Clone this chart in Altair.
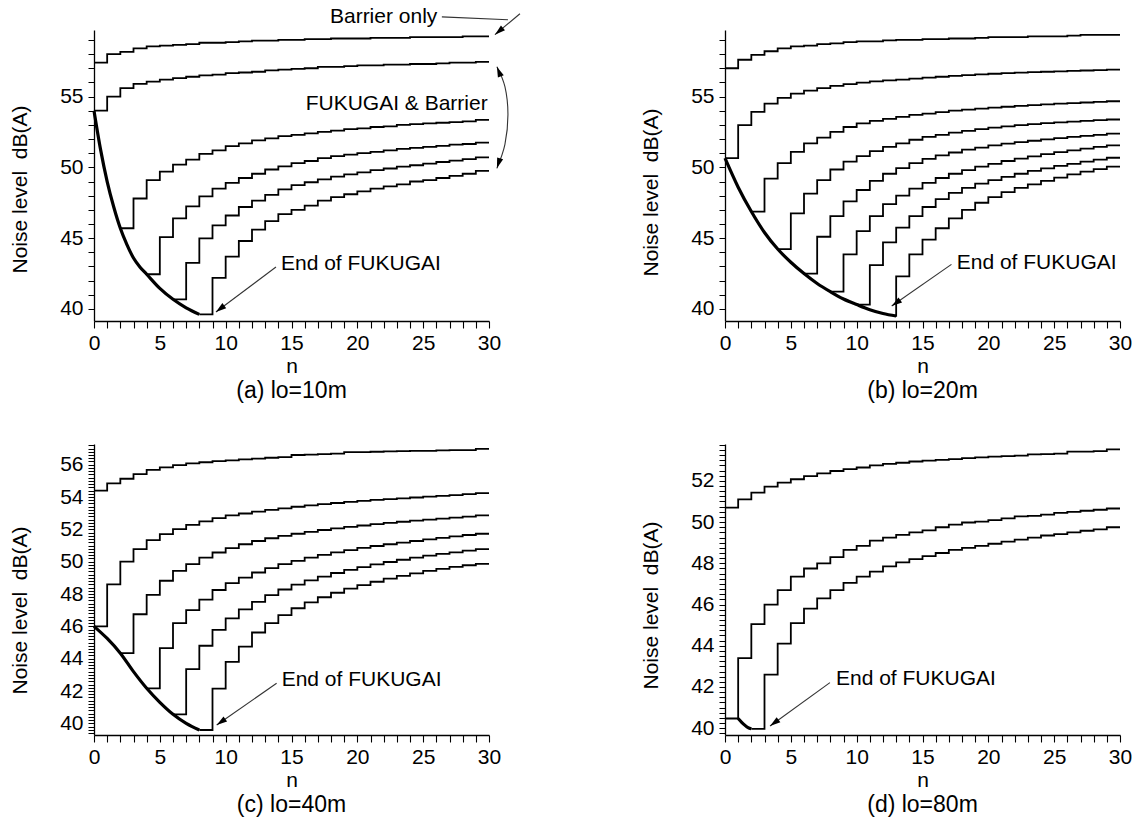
import altair as alt
import pandas as pd

FONT = "Liberation Sans"

# ---------------- (a) lo=10m ----------------
a_barrier = [57.4, 58.0, 58.15, 58.4, 58.55, 58.6, 58.65, 58.7, 58.8, 58.8,
             58.85, 58.9, 58.95, 58.95, 59.0, 59.0, 59.05, 59.05, 59.1, 59.1,
             59.1, 59.15, 59.15, 59.15, 59.2, 59.2, 59.2, 59.2, 59.25, 59.25]
a_fb_start_n = [0, 2, 4, 6, 8]
a_fb_start_db = [54.0, 45.7, 42.45, 40.68, 39.62]
a_fb_jump = [1, 3, 5, 7, 9]
a_fb1 = [55.0, 55.6, 55.9, 56.05, 56.2, 56.3, 56.4, 56.5, 56.55, 56.65, 56.7, 56.75,
         56.85, 56.9, 56.95, 57.0, 57.1, 57.1, 57.15, 57.2, 57.2, 57.25, 57.25, 57.3,
         57.3, 57.35, 57.4, 57.4, 57.45]
a_fb2 = [47.8, 49.1, 49.7, 50.2, 50.55, 50.95, 51.2, 51.5, 51.7, 51.9, 52.05, 52.2,
         52.3, 52.4, 52.5, 52.6, 52.7, 52.75, 52.85, 52.9, 53.0, 53.05, 53.1, 53.15,
         53.2, 53.25, 53.35]
a_fb3 = [45.07, 46.4, 47.25, 47.95, 48.5, 48.9, 49.25, 49.55, 49.85, 50.07, 50.3,
         50.45, 50.65, 50.8, 50.9, 51.0, 51.1, 51.2, 51.3, 51.38, 51.45, 51.52, 51.6,
         51.65, 51.75]
a_fb4 = [43.26, 44.98, 45.9, 46.6, 47.2, 47.65, 48.05, 48.45, 48.75, 48.95, 49.15,
         49.35, 49.5, 49.65, 49.8, 49.92, 50.05, 50.15, 50.27, 50.38, 50.48, 50.58, 50.7]
a_fb5 = [42.2, 43.7, 44.8, 45.6, 46.2, 46.7, 47.0, 47.3, 47.65, 47.9, 48.1, 48.3,
         48.5, 48.65, 48.8, 49.0, 49.1, 49.25, 49.4, 49.55, 49.75]
a_curve_n = [0, 0.5, 1, 1.5, 2, 2.5, 3, 3.5, 4, 5, 6, 7, 8]
a_curve_db = [54.0, 51.25, 49.0, 47.2, 45.7, 44.55, 43.6, 42.95, 42.45, 41.45, 40.68,
              40.08, 39.62]

# ---------------- (b) lo=20m ----------------
b_barrier = [57.0, 57.6, 57.95, 58.2, 58.4, 58.55, 58.6, 58.7, 58.75, 58.85,
             58.9, 58.9, 58.97, 59.0, 59.0, 59.05, 59.05, 59.1, 59.1, 59.15,
             59.2, 59.2, 59.2, 59.25, 59.25, 59.25, 59.3, 59.35, 59.35, 59.35]
b_fb_start_n = [0, 2, 4, 6, 8, 10, 12.9]
b_fb_start_db = [50.65, 46.88, 44.23, 42.5, 41.22, 40.31, 39.52]
b_fb_jump = [1, 3, 5, 7, 9, 11, 13]
b_fb1 = [52.98, 53.92, 54.5, 54.9, 55.2, 55.42, 55.6, 55.75, 55.88, 55.98, 56.07,
         56.14, 56.2, 56.27, 56.34, 56.4, 56.46, 56.51, 56.56, 56.61, 56.65, 56.69,
         56.72, 56.75, 56.78, 56.81, 56.84, 56.87, 56.9]
b_fb2 = [49.2, 50.3, 51.1, 51.7, 52.1, 52.5, 52.85, 53.1, 53.28, 53.43, 53.57, 53.7,
         53.8, 53.9, 54.0, 54.07, 54.15, 54.22, 54.28, 54.34, 54.4, 54.45, 54.5, 54.54,
         54.58, 54.62, 54.67]
b_fb3 = [46.75, 48.15, 49.1, 49.85, 50.4, 50.8, 51.15, 51.45, 51.7, 51.95, 52.15,
         52.3, 52.45, 52.58, 52.7, 52.8, 52.9, 52.98, 53.05, 53.12, 53.18, 53.23,
         53.28, 53.33, 53.38]
b_fb4 = [45.1, 46.55, 47.6, 48.4, 49.05, 49.55, 49.95, 50.3, 50.6, 50.85, 51.05,
         51.25, 51.4, 51.55, 51.67, 51.78, 51.88, 51.98, 52.07, 52.15, 52.23, 52.3, 52.38]
b_fb5 = [43.85, 45.5, 46.55, 47.4, 48.0, 48.5, 48.9, 49.25, 49.55, 49.8, 50.05,
         50.25, 50.45, 50.62, 50.78, 50.93, 51.07, 51.2, 51.32, 51.44, 51.55]
b_fb6 = [43.1, 44.7, 45.75, 46.55, 47.2, 47.75, 48.2, 48.55, 48.85, 49.1, 49.33,
         49.55, 49.75, 49.93, 50.1, 50.25, 50.4, 50.55, 50.68]
b_fb7 = [42.3, 43.85, 44.9, 45.7, 46.4, 47.0, 47.5, 47.9, 48.25, 48.55, 48.8, 49.05,
         49.28, 49.5, 49.7, 49.88, 50.05]
b_curve_n = [0, 1, 2, 3, 4, 5, 6, 7, 8, 9, 10, 11, 12, 13]
b_curve_db = [50.65, 48.6, 46.88, 45.4, 44.23, 43.3, 42.5, 41.8, 41.22, 40.7, 40.31,
              39.95, 39.68, 39.5]

# ---------------- (c) lo=40m ----------------
c_barrier = [54.4, 54.85, 55.13, 55.42, 55.68, 55.83, 55.97, 56.08, 56.15, 56.22,
             56.27, 56.33, 56.38, 56.43, 56.47, 56.6, 56.62, 56.65, 56.68, 56.78,
             56.78, 56.8, 56.82, 56.84, 56.85, 56.86, 56.88, 56.9, 56.9, 56.98]
c_fb_start_n = [0, 2, 4, 6, 8]
c_fb_start_db = [46.0, 44.34, 42.17, 40.56, 39.59]
c_fb_jump = [1, 3, 5, 7, 9]
c_fb1 = [48.6, 50.0, 50.78, 51.33, 51.7, 52.02, 52.28, 52.5, 52.7, 52.86, 52.98,
         53.1, 53.2, 53.3, 53.4, 53.48, 53.56, 53.63, 53.7, 53.76, 53.82, 53.87,
         53.92, 53.97, 54.02, 54.07, 54.12, 54.18, 54.24]
c_fb2 = [46.75, 47.95, 48.82, 49.43, 49.85, 50.25, 50.57, 50.84, 51.08, 51.28, 51.45,
         51.6, 51.73, 51.85, 51.96, 52.06, 52.15, 52.24, 52.32, 52.4, 52.47, 52.54,
         52.6, 52.66, 52.72, 52.79, 52.86]
c_fb3 = [44.65, 46.2, 47.0, 47.65, 48.25, 48.67, 49.02, 49.33, 49.6, 49.85, 50.05,
         50.25, 50.42, 50.58, 50.72, 50.85, 50.97, 51.08, 51.18, 51.28, 51.38, 51.47,
         51.56, 51.65, 51.73]
c_fb4 = [43.35, 44.8, 45.78, 46.5, 47.05, 47.52, 47.93, 48.28, 48.58, 48.85, 49.08,
         49.3, 49.5, 49.67, 49.83, 49.98, 50.12, 50.25, 50.37, 50.48, 50.58, 50.68, 50.78]
c_fb5 = [42.15, 43.8, 44.75, 45.62, 46.2, 46.7, 47.12, 47.48, 47.8, 48.08, 48.33,
         48.55, 48.76, 48.95, 49.12, 49.28, 49.43, 49.56, 49.68, 49.78, 49.87]
c_curve_n = [0, 1, 2, 3, 4, 5, 6, 7, 8]
c_curve_db = [46.0, 45.25, 44.34, 43.2, 42.17, 41.3, 40.56, 40.0, 39.59]

# ---------------- (d) lo=80m ----------------
d_barrier = [50.7, 51.1, 51.43, 51.72, 51.92, 52.08, 52.23, 52.36, 52.48, 52.57,
             52.65, 52.75, 52.83, 52.88, 52.94, 52.98, 53.02, 53.06, 53.1, 53.14,
             53.18, 53.2, 53.23, 53.29, 53.3, 53.32, 53.42, 53.42, 53.44, 53.53]
d_fb_start_n = [0, 2]
d_fb_start_db = [40.47, 39.97]
d_fb_jump = [1, 3]
d_fb1 = [43.4, 45.05, 46.0, 46.7, 47.35, 47.75, 48.0, 48.3, 48.65, 48.85, 49.1,
         49.25, 49.38, 49.5, 49.6, 49.75, 49.88, 49.98, 50.02, 50.1, 50.18, 50.28,
         50.3, 50.36, 50.45, 50.5, 50.55, 50.6, 50.66]
d_fb2 = [42.6, 44.1, 45.1, 45.8, 46.3, 46.7, 47.05, 47.35, 47.6, 47.85, 48.05, 48.2,
         48.35, 48.5, 48.65, 48.75, 48.85, 48.95, 49.05, 49.15, 49.25, 49.35, 49.42,
         49.5, 49.58, 49.65, 49.75]
d_curve_n = [1.0, 1.25, 1.5, 1.75, 2.0]
d_curve_db = [40.47, 40.3, 40.15, 40.03, 39.97]

# ---------------- annotation anchors (data units) ----------------
end_text = "End of FUKUGAI"
a_end_label = (14.2, 43.17)
a_end_arrow = (13.82, 42.96, 9.26, 39.79)
b_end_label = (17.6, 43.26)
b_end_arrow = (17.2, 43.15, 12.66, 40.21)
c_end_label = (14.25, 42.69)
c_end_arrow = (13.87, 42.48, 9.32, 39.9)
d_end_label = (8.43, 42.38)
d_end_arrow = (7.97, 42.21, 3.42, 40.11)

ARROW = "M0,0L-0.3,1L0.3,1Z"


def build_steps(barrier, start_n, start_db, jumps, step_lists):
    rows = []
    series = [("barrier", 0, barrier[0], 1, barrier[1:])]
    for j in range(len(jumps)):
        series.append((f"fb{j + 1}", start_n[j], start_db[j], jumps[j], step_lists[j]))
    for name, n0, l0, jump, vals in series:
        rows.append({"s": name, "i": 0, "n": n0, "db": l0})
        for k, v in enumerate(vals):
            rows.append({"s": name, "i": k + 1, "n": jump + k, "db": v})
        rows.append({"s": name, "i": len(vals) + 1, "n": 30, "db": vals[-1]})
    return pd.DataFrame(rows)


def make_panel(steps_df, curve_n, curve_db, ydom, yticks, label_expr, title_y,
               caption, texts_left, texts_right, rules, heads, curves=None):
    xs = alt.Scale(domain=[0, 30], nice=False, zero=False)
    ys = alt.Scale(domain=ydom, nice=False, zero=False)
    xaxis = alt.Axis(values=list(range(31)),
                     labelExpr="datum.value % 5 == 0 ? format(datum.value, 'd') : ''",
                     tickSize=7, labelPadding=4, labelFont=FONT, labelFontSize=21,
                     labelColor="black", labelOverlap=False, labelFlush=False,
                     domainColor="black", domainWidth=1.3, tickColor="black",
                     tickWidth=1.1, grid=False, title="n", titleFont=FONT,
                     titleFontSize=21, titleFontWeight="normal", titleColor="black",
                     titlePadding=2)
    yaxis = alt.Axis(values=yticks, labelExpr=label_expr, tickSize=6, labelPadding=5,
                     labelFont=FONT, labelFontSize=21, labelColor="black",
                     labelOverlap=False, labelFlush=False, domainColor="black",
                     domainWidth=1.3, tickColor="black", tickWidth=1.0, grid=False,
                     title="Noise level\u00a0 dB(A)", titleFont=FONT, titleFontSize=21,
                     titleFontWeight="normal", titleColor="black", titleAngle=270,
                     titleAlign="center", titleBaseline="middle", titleX=-74,
                     titleY=title_y)
    nx = alt.X("n:Q", scale=xs, axis=xaxis)
    ny = alt.Y("db:Q", scale=ys, axis=yaxis)

    layers = [
        alt.Chart(steps_df).mark_line(interpolate="step-after", color="black",
                                      strokeWidth=1.8).encode(
            x=nx, y=ny, detail="s:N", order="i:Q"),
        alt.Chart(pd.DataFrame({"n": curve_n, "db": curve_db})).mark_line(
            interpolate="monotone", color="black", strokeWidth=3.2).encode(x=nx, y=ny),
    ]
    if curves is not None:
        layers.append(alt.Chart(curves).mark_line(
            interpolate="cardinal", color="#333", strokeWidth=1.1).encode(
            x=nx, y=ny, order="i:Q"))
    layers.append(alt.Chart(rules).mark_rule(color="#333", strokeWidth=1.1).encode(
        x=nx, y=ny, x2="n2:Q", y2="db2:Q"))
    layers.append(alt.Chart(heads).mark_point(
        shape=ARROW, filled=True, size=440, color="black", opacity=1,
        strokeWidth=0).encode(x=nx, y=ny, angle=alt.Angle("ang:Q", scale=None)))
    layers.append(alt.Chart(texts_left).mark_text(
        align="left", baseline="middle", font=FONT, fontSize=21, color="black").encode(
        x=nx, y=ny, text="t:N"))
    if texts_right is not None:
        layers.append(alt.Chart(texts_right).mark_text(
            align="right", baseline="middle", font=FONT, fontSize=21,
            color="black").encode(x=nx, y=ny, text="t:N"))
    return alt.layer(*layers).properties(
        width=395, height=291,
        title=alt.TitleParams(text=caption, orient="bottom", anchor="middle",
                              frame="group", font=FONT, fontSize=23,
                              fontWeight="normal", color="black", offset=4))


def rules_df(items):
    return pd.DataFrame([{"n": a, "db": b, "n2": c, "db2": d} for a, b, c, d in items])


def heads_df(items):
    return pd.DataFrame([{"n": a, "db": b, "ang": c} for a, b, c in items])


def text_df(items):
    return pd.DataFrame([{"n": a, "db": b, "t": t} for a, b, t in items])


ticks_ab = list(range(40, 60))
ticks_c = [round(39.4 + 0.2 * k, 1) for k in range(90)]
ticks_d = [round(39.75 + 0.25 * k, 2) for k in range(57)]
lab5 = "datum.value % 5 == 0 ? format(datum.value, 'd') : ''"
lab2 = "abs(datum.value - 2 * round(datum.value / 2)) < 0.001 ? format(datum.value, 'd') : ''"

# panel a
pa = make_panel(
    build_steps(a_barrier, a_fb_start_n, a_fb_start_db, a_fb_jump,
                [a_fb1, a_fb2, a_fb3, a_fb4, a_fb5]),
    a_curve_n, a_curve_db, [39.15, 59.7], ticks_ab, lab5, 159, "(a) lo=10m",
    text_df([(a_end_label[0], a_end_label[1], end_text), (17.92, 60.63, "Barrier only")]),
    text_df([(29.9, 54.46, "FUKUGAI & Barrier")]),
    rules_df([a_end_arrow, (26.42, 60.63, 31.44, 60.42), (32.35, 60.85, 30.45, 59.37)]),
    heads_df([(a_end_arrow[2], a_end_arrow[3], 233), (30.45, 59.37, 230),
              (30.6, 57.11, 338), (30.6, 49.93, 198)]),
    curves=pd.DataFrame({"i": [0, 1, 2, 3, 4],
                         "n": [30.6, 31.21, 31.44, 31.21, 30.6],
                         "db": [57.11, 55.7, 53.73, 51.62, 49.93]}))

pb = make_panel(
    build_steps(b_barrier, b_fb_start_n, b_fb_start_db, b_fb_jump,
                [b_fb1, b_fb2, b_fb3, b_fb4, b_fb5, b_fb6, b_fb7]),
    b_curve_n, b_curve_db, [39.15, 59.7], ticks_ab, lab5, 162, "(b) lo=20m",
    text_df([(b_end_label[0], b_end_label[1], end_text)]), None,
    rules_df([b_end_arrow]),
    heads_df([(b_end_arrow[2], b_end_arrow[3], 235)]))

pc = make_panel(
    build_steps(c_barrier, c_fb_start_n, c_fb_start_db, c_fb_jump,
                [c_fb1, c_fb2, c_fb3, c_fb4, c_fb5]),
    c_curve_n, c_curve_db, [39.28, 57.28], ticks_c, lab2, 166, "(c) lo=40m",
    text_df([(c_end_label[0], c_end_label[1], end_text)]), None,
    rules_df([c_end_arrow]),
    heads_df([(c_end_arrow[2], c_end_arrow[3], 235)]))

pd_ = make_panel(
    build_steps(d_barrier, d_fb_start_n, d_fb_start_db, d_fb_jump, [d_fb1, d_fb2]),
    d_curve_n, d_curve_db, [39.67, 53.79], ticks_d, lab2, 161, "(d) lo=80m",
    text_df([(d_end_label[0], d_end_label[1], end_text)]), None,
    rules_df([d_end_arrow]),
    heads_df([(d_end_arrow[2], d_end_arrow[3], 234)]))

chart = alt.concat(pa, pb, pc, pd_, columns=2, spacing={"row": 123, "column": 236},
                   bounds="flush").properties(
    padding={"left": 9, "top": 5, "right": 5, "bottom": 2}, background="white"
).configure_view(stroke=None)

chart.save("out.html", embed_options={"renderer": "svg", "actions": False})
